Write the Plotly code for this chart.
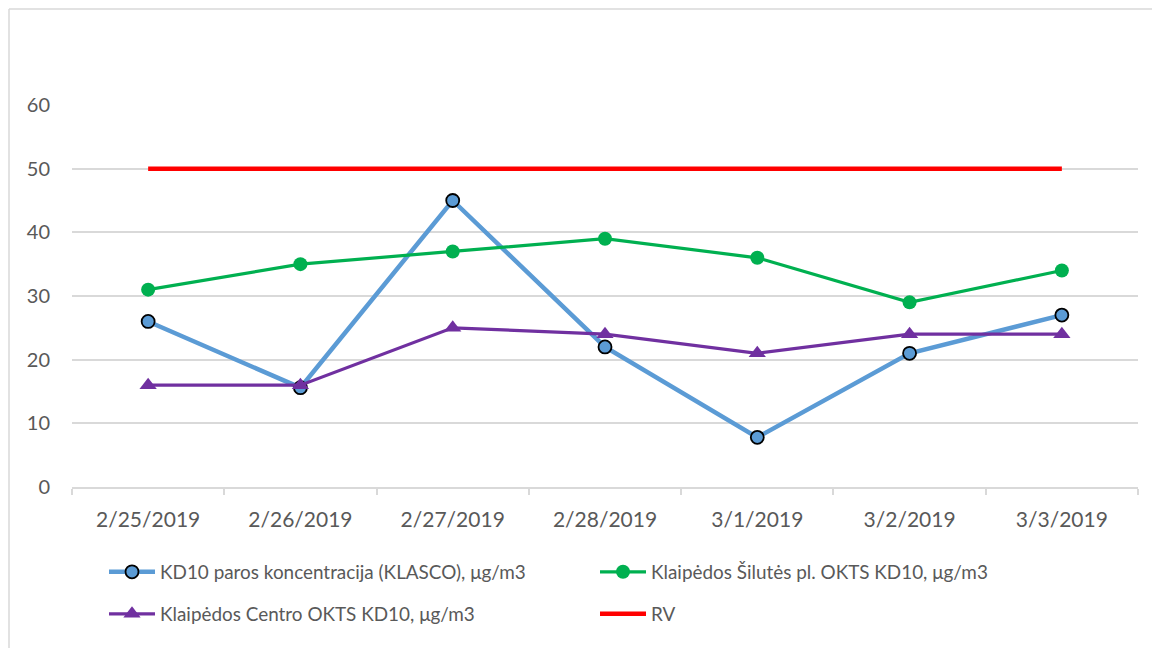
import plotly.graph_objects as go

dates = ["2/25/2019", "2/26/2019", "2/27/2019", "2/28/2019", "3/1/2019", "3/2/2019", "3/3/2019"]
klasco = [26, 15.6, 45, 22, 7.8, 21, 27]
silutes = [31, 35, 37, 39, 36, 29, 34]
centro = [16, 16, 25, 24, 21, 24, 24]
rv = [50, 50, 50, 50, 50, 50, 50]

names = [
    "KD10 paros koncentracija (KLASCO), μg/m3",
    "Klaipėdos Šilutės pl. OKTS KD10, μg/m3",
    "Klaipėdos Centro OKTS KD10, μg/m3",
    "RV",
]

FONT = "Lato"
TXT = "#595959"
GRID = "#d9d9d9"

fig = go.Figure()
fig.add_trace(go.Scatter(
    x=dates, y=klasco, name=names[0], mode="lines+markers", legend="legend",
    line=dict(color="#5B9BD5", width=4.5),
    marker=dict(symbol="circle", size=13, color="#5B9BD5", line=dict(color="black", width=1.8)),
))
fig.add_trace(go.Scatter(
    x=dates, y=silutes, name=names[1], mode="lines+markers", legend="legend",
    line=dict(color="#00B050", width=3.2),
    marker=dict(symbol="circle", size=14, color="#00B050"),
))
fig.add_trace(go.Scatter(
    x=dates, y=centro, name=names[2], mode="lines+markers", legend="legend2",
    line=dict(color="#7030A0", width=3.2),
    marker=dict(symbol="triangle-up", size=15, color="#7030A0"),
))
fig.add_trace(go.Scatter(
    x=dates, y=rv, name=names[3], mode="lines", legend="legend2",
    line=dict(color="#FF0000", width=4.5),
))

leg_common = dict(
    orientation="h", xanchor="left", yanchor="middle",
    entrywidth=430, entrywidthmode="pixels", itemwidth=46,
    font=dict(family=FONT, size=18.9, color=TXT),
    bgcolor="rgba(0,0,0,0)", borderwidth=0,
)

# figure sits at page offset (8, 8) because of the default body margin
W, H = 1152, 640
L, R, T, B = 64, 22, 97, 161
pw = W - L - R
ph = H - T - B

fig.update_layout(
    width=W, height=H,
    margin=dict(l=L, r=R, t=T, b=B, autoexpand=False),
    paper_bgcolor="white", plot_bgcolor="white",
    font=dict(family=FONT, size=18, color=TXT),
    showlegend=True,
    legend=dict(x=32 / pw, y=-(572 - 487) / ph, **leg_common),
    legend2=dict(x=32 / pw, y=-(614 - 487) / ph, **leg_common),
    xaxis=dict(
        type="category", range=[-0.5, 6.5],
        showgrid=False, showline=True, linecolor=GRID, linewidth=1.5,
        ticks="outside", tickson="boundaries", ticklen=6, tickcolor=GRID, tickwidth=1.5,
        tickfont=dict(family=FONT, size=21, color=TXT),
        ticklabelstandoff=13,
        fixedrange=True,
    ),
    yaxis=dict(
        range=[0, 60], dtick=10, showgrid=True, gridcolor=GRID, gridwidth=1.5,
        zeroline=False, showline=False, ticks="",
        tickfont=dict(family=FONT, size=20, color=TXT),
        ticklabelstandoff=21,
    ),
    shapes=[
        dict(type="line", xref="paper", yref="paper", x0=-(L - 1) / pw, x1=-(L - 1) / pw, y0=-B / ph, y1=(ph + T - 1) / ph,
             line=dict(color=GRID, width=1.5)),
        dict(type="line", xref="paper", yref="paper", x0=-(L - 1) / pw, x1=(pw + R) / pw, y0=(ph + T - 1) / ph, y1=(ph + T - 1) / ph,
             line=dict(color=GRID, width=1.5)),
    ],
)

fig.write_html("out.html")
